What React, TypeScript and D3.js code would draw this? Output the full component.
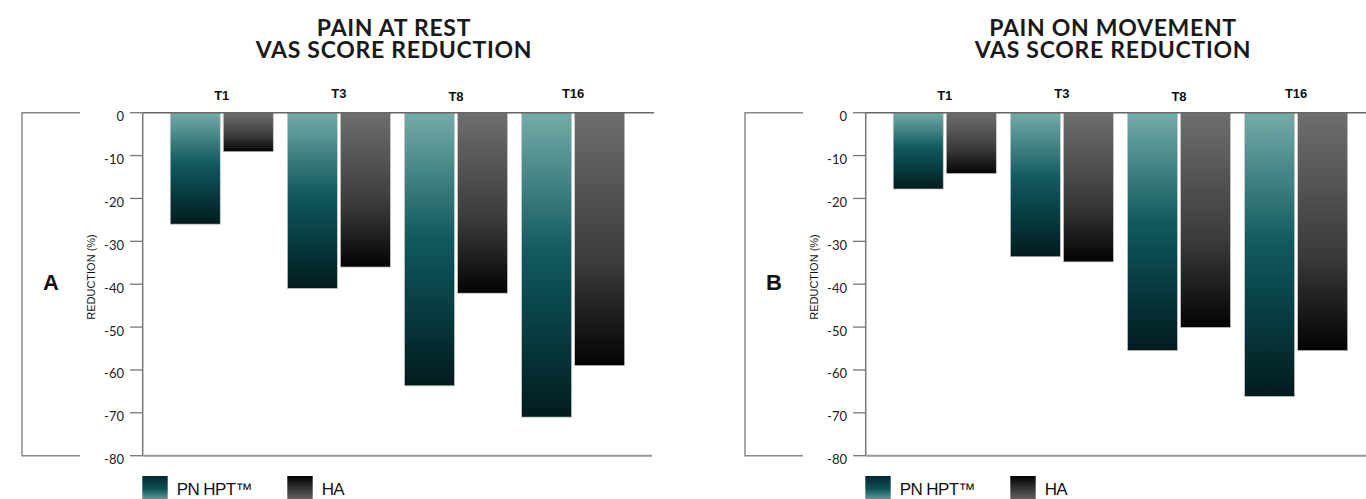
import React from "react";
import * as d3 from "d3";

const categories = ["T1", "T3", "T8", "T16"];
const seriesNames = ["PN HPT™", "HA"];
const restPN = [-26, -41, -63.7, -71];
const restHA = [-9.1, -36, -42.1, -59];
const movePN = [-17.8, -33.6, -55.5, -66.2];
const moveHA = [-14.2, -34.8, -50.1, -55.5];
const yTicks = [0, -10, -20, -30, -40, -50, -60, -70, -80];
const titlesA = ["PAIN AT REST", "VAS SCORE REDUCTION"];
const titlesB = ["PAIN ON MOVEMENT", "VAS SCORE REDUCTION"];

const Y0 = 112.7;
const Y1 = 455.7;
const PLOT_W = 509.5;

type PanelProps = {
  ox: number; // x of y axis
  letter: string;
  titles: string[];
  titleX: number;
  pn: number[];
  ha: number[];
  lineRight: number;
};

function Panel({ ox, letter, titles, titleX, pn, ha, lineRight }: PanelProps) {
  const y = d3.scaleLinear().domain([0, -80]).range([Y0, Y1]);
  const x0 = d3
    .scaleBand<string>()
    .domain(categories)
    .range([ox, ox + PLOT_W])
    .paddingInner(0.12)
    .paddingOuter(0.235);
  const x1 = d3
    .scaleBand<string>()
    .domain(seriesNames)
    .range([0, x0.bandwidth()])
    .paddingInner(0.057)
    .paddingOuter(0);
  const series = [pn, ha];
  const fills = ["url(#gTeal)", "url(#gGray)"];
  const legFills = ["url(#lTeal)", "url(#lGray)"];
  const legX = [ox - 0.4, ox + 144.6];
  return (
    <g>
      {/* titles */}
      <text
        x={titleX}
        y={35.5}
        textAnchor="middle"
        fontFamily="Lato, 'Open Sans', sans-serif"
        fontWeight={700}
        fontSize={23}
        letterSpacing={0.7}
        fill="#1a1a1a"
      >
        {titles.map((t, i) => (
          <tspan key={t + i} x={titleX} dy={i === 0 ? 0 : 22.5}>
            {t}
          </tspan>
        ))}
      </text>
      {/* bracket */}
      <path
        d={`M${ox - 62.7},${Y0} H${ox - 120.7} V${Y1} H${ox - 62.7}`}
        fill="none"
        stroke="#8a8a8a"
        strokeWidth={1.5}
      />
      <text
        x={ox - 91.7}
        y={290}
        textAnchor="middle"
        fontFamily="'Liberation Sans', Arial, sans-serif"
        fontWeight={700}
        fontSize={22}
        fill="#111"
      >
        {letter}
      </text>
      <text
        transform={`translate(${ox - 52},${277}) rotate(-90)`}
        textAnchor="middle"
        dominantBaseline="central"
        fontFamily="'Liberation Sans', Arial, sans-serif"
        fontSize={11}
        fill="#111"
      >
        REDUCTION (%)
      </text>
      {/* ticks */}
      {yTicks.map((t) => (
        <g key={t}>
          <line x1={ox - 12.7} x2={ox} y1={y(t)} y2={y(t)} stroke="#777" strokeWidth={1.3} />
          <text
            x={ox - 18.7}
            y={y(t) + 3.5}
            textAnchor="end"
            dominantBaseline="central"
            fontFamily="Lato, 'Open Sans', sans-serif"
            fontSize={13}
            fill="#222"
          >
            {t}
          </text>
        </g>
      ))}
      {/* bars */}
      {categories.map((c, ci) => (
        <g key={c} transform={`translate(${x0(c)},0)`}>
          {series.map((s, si) => (
            <rect
              key={si}
              x={x1(seriesNames[si])}
              y={y(0)}
              width={x1.bandwidth()}
              height={y(s[ci]) - y(0)}
              fill={fills[si]}
              stroke="#c9c9c9"
              strokeWidth={0.7}
            />
          ))}
          <text
            x={x0.bandwidth() / 2}
            y={[100, 98, 101, 98][ci]}
            textAnchor="middle"
            fontFamily="'Liberation Sans', Arial, sans-serif"
            fontWeight={700}
            fontSize={13}
            fill="#111"
          >
            {c}
          </text>
        </g>
      ))}
      {/* axis lines */}
      <line x1={ox} x2={ox} y1={Y0} y2={Y1} stroke="#777" strokeWidth={1.5} />
      <line x1={ox} x2={lineRight} y1={Y0} y2={Y0} stroke="#666" strokeWidth={1.5} />
      <line x1={ox} x2={lineRight - 2} y1={Y1} y2={Y1} stroke="#999" strokeWidth={2} />
      {/* legend */}
      {seriesNames.map((n, i) => (
        <g key={n}>
          <rect x={legX[i]} y={476} width={25.4} height={25} fill={legFills[i]} />
          <text
            x={legX[i] + 34.4}
            y={495}
            fontFamily="'Liberation Sans', Arial, sans-serif"
            fontSize={17}
            letterSpacing={-0.6}
            fill="#111"
          >
            {n}
          </text>
        </g>
      ))}
    </g>
  );
}

export default function App() {
  return (
    <svg
      width={1366}
      height={499}
      style={{ position: "absolute", left: 0, top: 0, display: "block", background: "#fff" }}
    >
      <defs>
        <linearGradient id="gTeal" x1="0" y1="0" x2="0" y2="1">
          <stop offset="0" stopColor="#74aca8" />
          <stop offset="0.45" stopColor="#135b60" />
          <stop offset="0.6" stopColor="#0a4a50" />
          <stop offset="1" stopColor="#021b1d" />
        </linearGradient>
        <linearGradient id="gGray" x1="0" y1="0" x2="0" y2="1">
          <stop offset="0" stopColor="#6e6e6e" />
          <stop offset="0.6" stopColor="#3a3a3a" />
          <stop offset="1" stopColor="#030303" />
        </linearGradient>
        <linearGradient id="lTeal" x1="0" y1="0" x2="0" y2="1">
          <stop offset="0" stopColor="#03292c" />
          <stop offset="0.5" stopColor="#0d4f55" />
          <stop offset="1" stopColor="#6aa6a3" />
        </linearGradient>
        <linearGradient id="lGray" x1="0" y1="0" x2="0" y2="1">
          <stop offset="0" stopColor="#000" />
          <stop offset="1" stopColor="#6a6a6a" />
        </linearGradient>
      </defs>
      <rect width={1366} height={499} fill="#fff" />
      <Panel ox={142.7} letter="A" titles={titlesA} titleX={394} pn={restPN} ha={restHA} lineRight={654} />
      <Panel ox={865.7} letter="B" titles={titlesB} titleX={1113} pn={movePN} ha={moveHA} lineRight={1368} />
    </svg>
  );
}
